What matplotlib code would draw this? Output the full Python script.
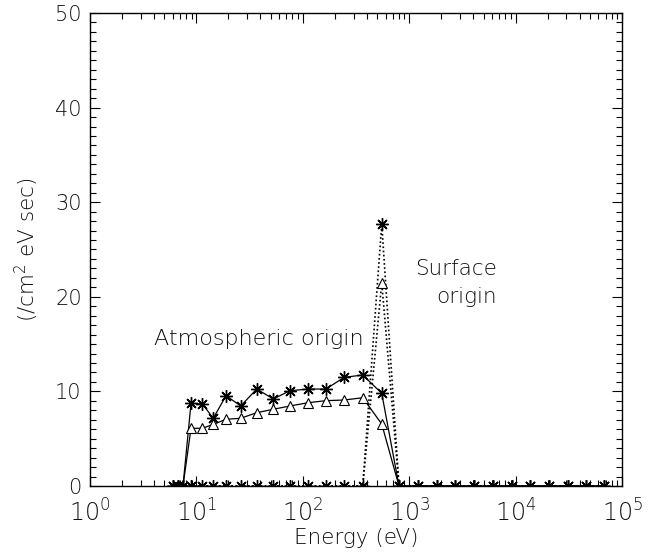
import matplotlib
matplotlib.use("Agg")
import matplotlib.pyplot as plt
from matplotlib.ticker import FixedLocator, MultipleLocator, LogLocator, NullFormatter
import numpy as np

energy = [6.03, 6.71, 7.48, 8.9, 11.4, 14.4, 19.0, 26.1, 36.9, 52.8, 75.8, 113, 165, 245,
          366, 552, 802, 1200, 1820, 2700, 4100, 6100, 9200, 13700, 20500, 30800, 46000, 68000]
atm_star = [0, 0, 0, 8.74, 8.67, 7.16, 9.55, 8.46, 10.25, 9.20, 10.07, 10.25, 10.25, 11.49,
            11.73, 9.80, 0, 0, 0, 0, 0, 0, 0, 0, 0, 0, 0, 0]
atm_tri = [0, 0, 0, 6.10, 6.10, 6.52, 7.05, 7.16, 7.75, 8.11, 8.46, 8.81, 9.02, 9.09,
           9.33, 6.55, 0, 0, 0, 0, 0, 0, 0, 0, 0, 0, 0, 0]
surf_star = [0, 0, 0, 0, 0, 0, 0, 0, 0, 0, 0, 0, 0, 0,
             0, 27.7, 0, 0, 0, 0, 0, 0, 0, 0, 0, 0, 0, 0]
surf_tri = [0, 0, 0, 0, 0, 0, 0, 0, 0, 0, 0, 0, 0, 0,
            0, 21.5, 0, 0, 0, 0, 0, 0, 0, 0, 0, 0, 0, 0]
xtick_exp = [0, 1, 2, 3, 4, 5]
ytick_vals = [0, 10, 20, 30, 40, 50]

plt.rcParams['font.family'] = ['DejaVu Sans']
plt.rcParams['font.weight'] = 'light'
plt.rcParams['axes.labelweight'] = 'light'
plt.rcParams['mathtext.fontset'] = 'dejavusans'
txt = '#111111'

fig = plt.figure(figsize=(6.5, 5.55), dpi=100)
ax = fig.add_axes([90/650, 1-486/555, 532/650, 473/555])

star = (8, 2, 0)
lw = 0.9
# atmospheric (solid)
ax.plot(energy, atm_star, '-', color='black', lw=lw, marker=star, ms=9, mew=1.0)
tri_idx = [i for i, v in enumerate(atm_tri) if v > 0]
ax.plot(energy, atm_tri, '-', color='black', lw=lw, marker='^', ms=7.5, mew=0.8,
        mfc='white', markevery=tri_idx)
# surface (dotted)
ax.plot(energy, surf_star, color='black', lw=1.2, ls=(0, (1, 1.5)), marker=star, ms=9, mew=1.0)
stri_idx = [i for i, v in enumerate(surf_tri) if v > 0]
ax.plot(energy, surf_tri, color='black', lw=1.2, ls=(0, (1, 1.5)), marker='^', ms=7.5, mew=0.8,
        mfc='white', markevery=stri_idx)

ax.set_xscale('log')
ax.set_xlim(1, 1e5)
ax.set_ylim(0, 50)

ax.xaxis.set_major_locator(FixedLocator([10.0**e for e in xtick_exp]))
ax.set_xticklabels([r'$\mathregular{10^{%d}}$' % e for e in xtick_exp])
ax.xaxis.set_minor_locator(LogLocator(base=10, subs=np.arange(2, 10)))
ax.xaxis.set_minor_formatter(NullFormatter())
ax.yaxis.set_major_locator(FixedLocator(ytick_vals))
ax.set_yticklabels([str(v) for v in ytick_vals])
ax.yaxis.set_minor_locator(MultipleLocator(1))

ax.tick_params(which='both', direction='in', top=True, right=True, colors='black',
               labelcolor=txt, width=0.8)
ax.tick_params(axis='y', labelsize=15, pad=6)
ax.tick_params(axis='x', labelsize=17, pad=10)
ax.tick_params(which='major', length=7)
ax.tick_params(which='minor', length=4)
for s in ax.spines.values():
    s.set_linewidth(1.0)

ax.set_xlabel('Energy (eV)', fontsize=15.5, color=txt, labelpad=1, fontweight='light')
ax.set_ylabel(r'(/cm$^\mathregular{2}$ eV sec)', fontsize=15.5, color=txt, labelpad=10,
              fontweight='light')

ax.text(3.7e2, 15.5, 'Atmospheric origin', fontsize=16, color=txt, ha='right', va='center')
ax.text(0.765, 0.43, 'Surface\norigin', transform=ax.transAxes, fontsize=15.5, color=txt,
        ha='right', va='center', multialignment='right', linespacing=1.5)

fig.savefig('out.png', dpi=100)
